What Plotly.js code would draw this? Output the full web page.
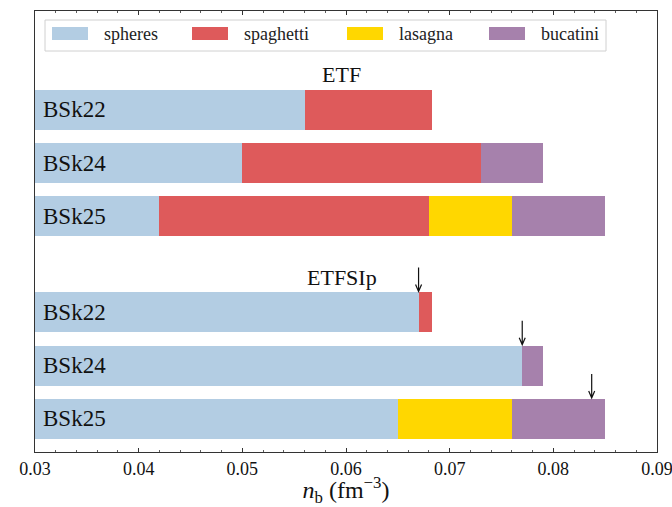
<!DOCTYPE html>
<html>
<head>
<meta charset="utf-8">
<script src="https://cdn.plot.ly/plotly-3.0.1.min.js"></script>
<style>html,body{margin:0;padding:0;background:#fff;}#chart{width:672px;height:507px;}</style>
</head>
<body>
<div id="chart"></div>
<script>
// ---- data ----
const groups = ['ETF', 'ETFSIp'];
const models = ['BSk22', 'BSk24', 'BSk25'];
const phases = ['spheres', 'spaghetti', 'lasagna', 'bucatini'];
// rows: ETF BSk22, ETF BSk24, ETF BSk25, ETFSIp BSk22, ETFSIp BSk24, ETFSIp BSk25
const rowStart     = [0.03, 0.03, 0.03, 0.03, 0.03, 0.03];
const spheresEnd   = [0.056, 0.050, 0.042, 0.067, 0.077, 0.065];
const spaghettiEnd = [0.0683, 0.073, 0.068, 0.0683, null, null];
const lasagnaEnd   = [null, null, 0.076, null, null, 0.076];
const bucatiniEnd  = [null, 0.079, 0.085, null, 0.079, 0.085];
const arrowValues  = [null, null, null, 0.067, 0.077, 0.0837];
const xTicks = [0.03, 0.04, 0.05, 0.06, 0.07, 0.08, 0.09];

// ---- styles ----
const colors = ['#b3cde3', '#de5a5b', '#ffd700', '#a681ac'];
const FONT = '"Liberation Serif", "DejaVu Serif", "Times New Roman", serif';
const groupGap = 0.8;
const barWidth = 0.75;

const phaseEnds = [spheresEnd, spaghettiEnd, lasagnaEnd, bucatiniEnd];
const nRows = groups.length * models.length;
function rowY(i) {
  const g = Math.floor(i / models.length), r = i % models.length;
  return (groups.length - 1 - g) * (models.length + groupGap) + (models.length - 1 - r);
}
const ys = [], rowLabels = [];
for (let i = 0; i < nRows; i++) { ys.push(rowY(i)); rowLabels.push(models[i % models.length]); }

const traces = phases.map((p, k) => ({
  type: 'bar', orientation: 'h', name: p, showlegend: false,
  y: [], x: [], base: [], width: barWidth,
  marker: {color: colors[k], line: {width: 0}}, hoverinfo: 'skip'
}));
for (let i = 0; i < nRows; i++) {
  let prev = rowStart[i];
  for (let k = 0; k < phases.length; k++) {
    const e = phaseEnds[k][i];
    if (e === null || e === undefined) continue;
    traces[k].y.push(ys[i]); traces[k].base.push(prev); traces[k].x.push(e - prev);
    prev = e;
  }
}

const annotations = [];
const shapes = [];
for (let i = 0; i < nRows; i++) {
  annotations.push({x: 0.0306, y: ys[i], xref: 'x', yref: 'y', text: rowLabels[i], showarrow: false,
    xanchor: 'left', yanchor: 'middle', font: {family: FONT, size: 23, color: '#111'}});
}
for (let g = 0; g < groups.length; g++) {
  annotations.push({x: 0.0596, y: ys[g * models.length] + 0.66, xref: 'x', yref: 'y', text: groups[g],
    showarrow: false, xanchor: 'center', yanchor: 'middle', font: {family: FONT, size: 22, color: '#111'}});
}
for (let i = 0; i < nRows; i++) {
  const a = arrowValues[i];
  if (a === null) continue;
  shapes.push({type: 'path', xref: 'x', yref: 'y', xsizemode: 'pixel', ysizemode: 'pixel',
    xanchor: a, yanchor: ys[i] + barWidth / 2, line: {color: '#111', width: 1.2},
    path: 'M0,1 L0,25 M-3,8 L0,1 L3,8'});
}
// custom legend
const L = 35, T = 11, W = 622, H = 441;
const px = v => (v - L) / W, py = v => (T + H - v) / H;
shapes.push({type: 'rect', xref: 'paper', yref: 'paper', x0: px(45), x1: px(606), y0: py(51), y1: py(20),
  line: {color: '#d0d0d0', width: 1}, fillcolor: 'rgba(255,255,255,0.8)', layer: 'above'});
const legendX = [52, 192, 347, 489];
for (let k = 0; k < phases.length; k++) {
  shapes.push({type: 'rect', xref: 'paper', yref: 'paper', x0: px(legendX[k]), x1: px(legendX[k] + 36),
    y0: py(40), y1: py(27), line: {width: 0}, fillcolor: colors[k], layer: 'above'});
  annotations.push({x: px(legendX[k] + 50), y: py(34), xref: 'paper', yref: 'paper', text: phases[k],
    showarrow: false, xanchor: 'left', yanchor: 'middle', font: {family: FONT, size: 18, color: '#222'}});
}

const layout = {
  width: 672, height: 507,
  margin: {l: 35, r: 15, t: 11, b: 55},
  paper_bgcolor: '#fff', plot_bgcolor: '#fff',
  barmode: 'overlay', bargap: 0,
  showlegend: false,
  font: {family: FONT, color: '#111'},
  xaxis: {
    range: [0.02999999, 0.09000001], tickvals: xTicks, ticktext: xTicks.map(v => v.toFixed(2)),
    ticks: 'inside', ticklen: 4, tickwidth: 1, tickcolor: '#333',
    minor: {dtick: 0.002, ticks: 'inside', ticklen: 2, tickwidth: 0.8, tickcolor: '#333'},
    showline: true, linecolor: '#333', linewidth: 1.2, mirror: 'ticks',
    showgrid: false, zeroline: false, ticklabeloverflow: 'allow',
    tickfont: {family: FONT, size: 18, color: '#111'},
    title: {text: '<i>n</i><sub>b</sub> (fm<sup>−3</sup>)', font: {family: FONT, size: 24, color: '#111'}, standoff: 8}
  },
  yaxis: {
    range: [-0.62, 7.655], showticklabels: false, ticks: '',
    showline: true, linecolor: '#333', linewidth: 1.2, mirror: true,
    showgrid: false, zeroline: false
  },
  annotations: annotations,
  shapes: shapes
};

Plotly.newPlot('chart', traces, layout, {staticPlot: true, displayModeBar: false});
</script>
</body>
</html>
